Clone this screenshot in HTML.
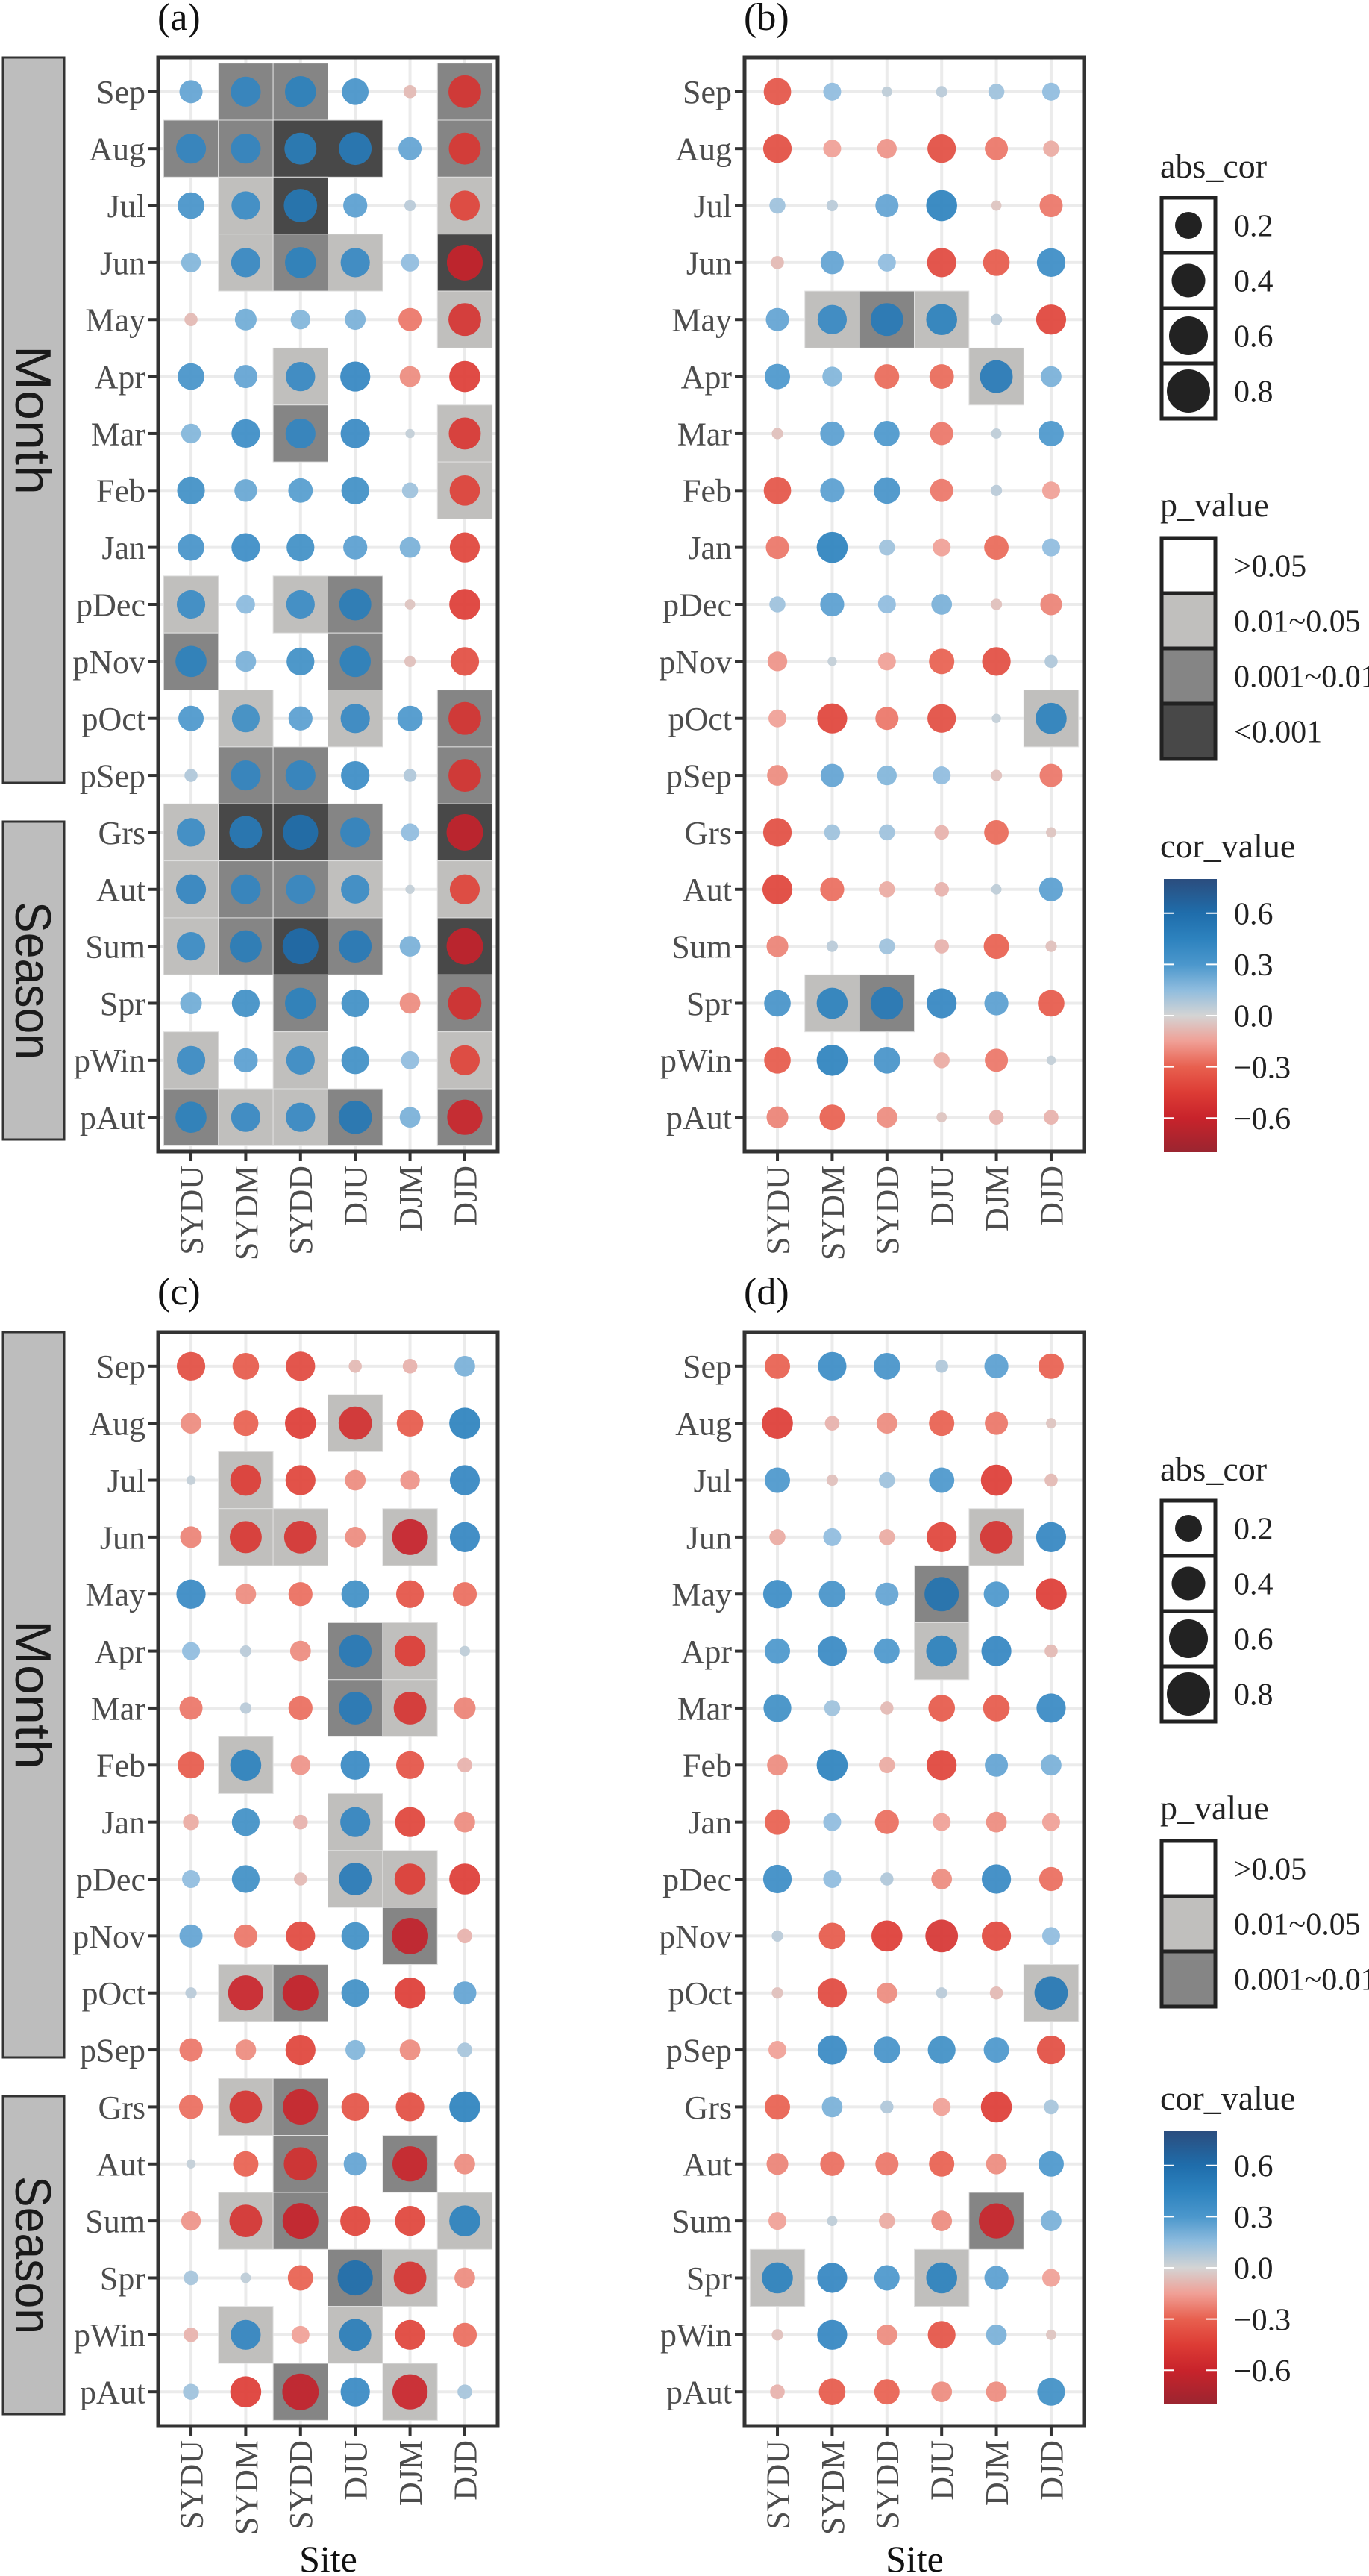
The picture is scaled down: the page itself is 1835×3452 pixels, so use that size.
<!DOCTYPE html>
<html><head><meta charset="utf-8">
<style>
html,body{margin:0;padding:0;background:#fff;}
svg{display:block;}
</style></head>
<body>
<svg id="chart" xmlns="http://www.w3.org/2000/svg" width="1835" height="3452" viewBox="0 0 1835 3452">
<defs>
<linearGradient id="corgrad" x1="0" y1="0" x2="0" y2="1"></linearGradient>
</defs>
<rect x="0" y="0" width="1835" height="3452" fill="#fff"/>
</svg>
<script>
const sites = ['SYDU','SYDM','SYDD','DJU','DJM','DJD'];
const periods = ['Sep','Aug','Jul','Jun','May','Apr','Mar','Feb','Jan','pDec','pNov','pOct','pSep','Grs','Aut','Sum','Spr','pWin','pAut'];
const corTicks = [0.6,0.3,0.0,-0.3,-0.6];
const corTickLabels = ['0.6','0.3','0.0','\u22120.3','\u22120.6'];
const sizeBreaks = [0.2,0.4,0.6,0.8];
const pLabels4 = ['>0.05','0.01~0.05','0.001~0.01','<0.001'];
const pLabels3 = ['>0.05','0.01~0.05','0.001~0.01'];

const corA = [
[0.25,0.42,0.45,0.33,-0.08,-0.5],
[0.42,0.42,0.48,0.5,0.25,-0.48],
[0.33,0.38,0.52,0.27,0.06,-0.42],
[0.18,0.4,0.45,0.4,0.15,-0.6],
[-0.08,0.22,0.18,0.2,-0.25,-0.5],
[0.33,0.25,0.4,0.42,-0.2,-0.45],
[0.18,0.38,0.42,0.4,0.04,-0.48],
[0.36,0.24,0.28,0.36,0.12,-0.43],
[0.33,0.38,0.36,0.27,0.2,-0.42],
[0.38,0.16,0.38,0.48,-0.05,-0.45],
[0.45,0.2,0.36,0.45,-0.06,-0.38],
[0.3,0.36,0.27,0.4,0.3,-0.5],
[0.08,0.42,0.42,0.38,0.08,-0.5],
[0.38,0.5,0.58,0.42,0.15,-0.62],
[0.42,0.42,0.4,0.38,0.04,-0.42],
[0.38,0.48,0.6,0.5,0.2,-0.62],
[0.22,0.36,0.45,0.36,-0.2,-0.52],
[0.38,0.27,0.38,0.36,0.15,-0.42],
[0.45,0.4,0.4,0.52,0.2,-0.58]];
const pA = [
[0,2,2,0,0,2],[2,2,3,3,0,2],[0,1,3,0,0,1],[0,1,2,1,0,3],[0,0,0,0,0,1],
[0,0,1,0,0,0],[0,0,2,0,0,1],[0,0,0,0,0,1],[0,0,0,0,0,0],[1,0,1,2,0,0],
[2,0,0,2,0,0],[0,1,0,1,0,2],[0,2,2,0,0,2],[1,3,3,2,0,3],[1,2,2,1,0,1],
[1,2,3,2,0,3],[0,0,2,0,0,2],[1,0,1,0,0,1],[2,1,1,2,0,2]];

const corB = [
[-0.35,0.15,0.05,0.06,0.12,0.15],
[-0.38,-0.15,-0.18,-0.38,-0.25,-0.12],
[0.12,0.06,0.25,0.45,-0.05,-0.25],
[-0.08,0.25,0.15,-0.4,-0.33,0.38],
[0.25,0.4,0.5,0.45,0.06,-0.42],
[0.3,0.18,-0.28,-0.28,0.5,0.2],
[-0.06,0.27,0.3,-0.25,0.05,0.3],
[-0.35,0.27,0.33,-0.25,0.06,-0.15],
[-0.25,0.45,0.12,-0.15,-0.28,0.15],
[0.12,0.27,0.15,0.2,-0.06,-0.22],
[-0.18,0.04,-0.15,-0.3,-0.38,0.08],
[-0.15,-0.42,-0.25,-0.38,0.04,0.45],
[-0.2,0.25,0.18,0.15,-0.06,-0.25],
[-0.38,0.12,0.12,-0.1,-0.28,-0.05],
[-0.42,-0.27,-0.12,-0.1,0.05,0.27],
[-0.22,0.06,0.12,-0.1,-0.3,-0.06],
[0.33,0.45,0.5,0.42,0.27,-0.33],
[-0.33,0.45,0.33,-0.12,-0.25,0.04],
[-0.22,-0.3,-0.2,-0.05,-0.1,-0.1]];
const pB = [
[0,0,0,0,0,0],[0,0,0,0,0,0],[0,0,0,0,0,0],[0,0,0,0,0,0],[0,1,2,1,0,0],
[0,0,0,0,1,0],[0,0,0,0,0,0],[0,0,0,0,0,0],[0,0,0,0,0,0],[0,0,0,0,0,0],
[0,0,0,0,0,0],[0,0,0,0,0,1],[0,0,0,0,0,0],[0,0,0,0,0,0],[0,0,0,0,0,0],
[0,0,0,0,0,0],[0,1,2,0,0,0],[0,0,0,0,0,0],[0,0,0,0,0,0]];

const corC = [
[-0.38,-0.33,-0.4,-0.08,-0.1,0.2],
[-0.2,-0.3,-0.45,-0.52,-0.33,0.45],
[0.04,-0.45,-0.42,-0.2,-0.18,0.42],
[-0.22,-0.48,-0.5,-0.2,-0.6,0.42],
[0.4,-0.2,-0.27,0.36,-0.36,-0.27],
[0.15,0.06,-0.2,0.5,-0.45,0.05],
[-0.25,0.06,-0.27,0.5,-0.5,-0.22],
[-0.33,0.45,-0.18,0.4,-0.36,-0.1],
[-0.12,0.36,-0.1,0.42,-0.42,-0.2],
[0.15,0.36,-0.08,0.5,-0.45,-0.45],
[0.25,-0.25,-0.4,0.36,-0.62,-0.1],
[0.06,-0.58,-0.6,0.36,-0.45,0.25],
[-0.25,-0.2,-0.42,0.18,-0.2,0.1],
[-0.27,-0.5,-0.58,-0.36,-0.38,0.45],
[0.04,-0.3,-0.52,0.25,-0.58,-0.2],
[-0.18,-0.5,-0.6,-0.42,-0.42,0.45],
[0.1,0.05,-0.3,0.58,-0.5,-0.2],
[-0.1,0.42,-0.15,0.48,-0.42,-0.27],
[0.12,-0.45,-0.62,0.4,-0.58,0.1]];
const pC = [
[0,0,0,0,0,0],[0,0,0,1,0,0],[0,1,0,0,0,0],[0,1,1,0,1,0],[0,0,0,0,0,0],
[0,0,0,2,1,0],[0,0,0,2,1,0],[0,1,0,0,0,0],[0,0,0,1,0,0],[0,0,0,1,1,0],
[0,0,0,0,2,0],[0,1,2,0,0,0],[0,0,0,0,0,0],[0,1,2,0,0,0],[0,0,2,0,2,0],
[0,1,2,0,0,1],[0,0,0,2,1,0],[0,1,0,1,0,0],[0,0,2,0,1,0]];

const corD = [
[-0.3,0.38,0.33,0.08,0.27,-0.3],
[-0.45,-0.1,-0.2,-0.3,-0.25,-0.05],
[0.3,-0.06,0.12,0.3,-0.45,-0.08],
[-0.12,0.15,-0.12,-0.42,-0.5,0.42],
[0.38,0.33,0.25,0.55,0.3,-0.45],
[0.3,0.4,0.3,0.45,0.42,-0.08],
[0.36,0.12,-0.08,-0.33,-0.33,0.4],
[-0.2,0.45,-0.12,-0.42,0.25,0.2],
[-0.3,0.15,-0.27,-0.15,-0.2,-0.15],
[0.38,0.15,0.08,-0.2,0.4,-0.27],
[0.06,-0.33,-0.45,-0.5,-0.4,0.15],
[-0.06,-0.4,-0.2,0.06,-0.08,0.52],
[-0.15,0.4,0.33,0.36,0.3,-0.38],
[-0.3,0.2,0.08,-0.15,-0.45,0.1],
[-0.22,-0.27,-0.25,-0.3,-0.2,0.3],
[-0.15,0.05,-0.12,-0.2,-0.58,0.2],
[0.45,0.42,0.3,0.45,0.27,-0.15],
[-0.06,0.42,-0.2,-0.36,0.2,-0.05],
[-0.1,-0.33,-0.3,-0.2,-0.2,0.36]];
const pD = [
[0,0,0,0,0,0],[0,0,0,0,0,0],[0,0,0,0,0,0],[0,0,0,0,1,0],[0,0,0,2,0,0],
[0,0,0,1,0,0],[0,0,0,0,0,0],[0,0,0,0,0,0],[0,0,0,0,0,0],[0,0,0,0,0,0],
[0,0,0,0,0,0],[0,0,0,0,0,1],[0,0,0,0,0,0],[0,0,0,0,0,0],[0,0,0,0,0,0],
[0,0,0,0,2,0],[1,0,0,1,0,0],[0,0,0,0,0,0],[0,0,0,0,0,0]];

const NS = 'http://www.w3.org/2000/svg';
const svg = document.getElementById('chart');
function mk(tag, attrs, parent){
  const e = document.createElementNS(NS, tag);
  for (const k in attrs) e.setAttribute(k, attrs[k]);
  (parent || svg).appendChild(e);
  return e;
}
const pFill = ['#ffffff','#c0bfbd','#858585','#484848'];
const stops = [
 [-0.8,[155,37,48]],[-0.6,[200,35,43]],[-0.45,[221,60,53]],[-0.3,[232,96,79]],
 [-0.15,[240,160,150]],[0,[212,212,212]],[0.15,[143,188,222]],[0.3,[75,151,204]],
 [0.45,[45,130,190]],[0.6,[31,109,171]],[0.8,[43,77,126]]];
function corColor(v){
  v = Math.max(-0.8, Math.min(0.8, v));
  for (let i=0;i<stops.length-1;i++){
    const a=stops[i], b=stops[i+1];
    if (v>=a[0] && v<=b[0]){
      const t=(v-a[0])/(b[0]-a[0]);
      const c=a[1].map((x,k)=>Math.round(x+(b[1][k]-x)*t));
      return 'rgb('+c.join(',')+')';
    }
  }
  return '#ccc';
}
function radius(v){ return Math.max(6, 31*Math.sqrt(Math.abs(v))); }

const serif = '"Liberation Serif", "DejaVu Serif", serif';
const sans = '"Liberation Sans", "DejaVu Sans", sans-serif';
const W = 455, H = 1466;

function drawPanel(name, bx, by, cor, pv, strips){
  const g = mk('g', {});
  
  
  const sx = W/6.2, sy = H/19.2;
  const xOf = i => bx + (0.6+i)*sx;
  const yOf = j => by + (0.6+j)*sy;
  // grid
  for (let j=0;j<periods.length;j++){
    const l = mk('line', {x1:bx, x2:bx+W, y1:yOf(j), y2:yOf(j), stroke:'#ebebeb', 'stroke-width':4}, g);
    
    
  }
  for (let i=0;i<sites.length;i++){
    const l = mk('line', {x1:xOf(i), x2:xOf(i), y1:by, y2:by+H, stroke:'#ebebeb', 'stroke-width':4}, g);
    
    
  }
  // tiles
  for (let j=0;j<periods.length;j++){
    for (let i=0;i<sites.length;i++){
      const p = pv[j][i];
      if (p>0){
        const r = mk('rect', {x:xOf(i)-sx/2, y:yOf(j)-sy/2, width:sx, height:sy, fill:pFill[p], stroke:'#e0e0e0', 'stroke-width':1}, g);
        
        
      }
    }
  }
  // circles
  for (let j=0;j<periods.length;j++){
    for (let i=0;i<sites.length;i++){
      const v = cor[j][i];
      const c = mk('circle', {cx:xOf(i), cy:yOf(j), r:radius(v), fill:corColor(v), 'fill-opacity':0.92}, g);
      
      
    }
  }
  // border
  const bd = mk('rect', {x:bx, y:by, width:W, height:H, fill:'none', stroke:'#333', 'stroke-width':5}, g);
  
  
  // y ticks and labels
  for (let j=0;j<periods.length;j++){
    const t = mk('line', {x1:bx-13, x2:bx, y1:yOf(j), y2:yOf(j), stroke:'#333', 'stroke-width':4}, g);
    
    
    const tx = mk('text', {x:bx-17, y:yOf(j), dy:'0.35em', 'text-anchor':'end', 'font-family':serif, 'font-size':44, fill:'#4d4d4d'}, g);
    tx.textContent = periods[j];
    
    
  }
  for (let i=0;i<sites.length;i++){
    const t = mk('line', {x1:xOf(i), x2:xOf(i), y1:by+H, y2:by+H+13, stroke:'#333', 'stroke-width':4}, g);
    
    
    const yy = by+H+19;
    const tx = mk('text', {x:xOf(i), y:yy, dy:'0.35em', 'text-anchor':'end', transform:'rotate(-90 '+xOf(i)+' '+yy+')', 'font-family':serif, 'font-size':44, fill:'#4d4d4d'}, g);
    tx.textContent = sites[i];
    
    
  }
  // panel title
  const tt = mk('text', {x:bx-1, y:by-37, 'font-family':serif, 'font-size':52, fill:'#111'}, g);
  tt.textContent = '(' + name + ')';
  
  
  if (strips){
    const defs = [['Month', by, by+972, 200],['Season', by+1024, by+1450, 212]];
    for (const d of defs){
      const r = mk('rect', {x:4, y:d[1], width:82, height:d[2]-d[1], fill:'#bdbdbd', stroke:'#333', 'stroke-width':3}, g);
      
      
      const cy = (d[1]+d[2])/2;
      const s = mk('text', {x:45, y:cy, dy:'0.35em', 'text-anchor':'middle', transform:'rotate(90 45 '+cy+')', 'font-family':sans, 'font-size':68, fill:'#1a1a1a', textLength:d[3], lengthAdjust:'spacingAndGlyphs'}, g);
      s.textContent = d[0];
      
      
    }
  }
  return {xOf, yOf};
}

drawPanel('a', 212, 77, corA, pA, true);
drawPanel('b', 998, 77, corB, pB, false);
drawPanel('c', 212, 1785, corC, pC, true);
drawPanel('d', 998, 1785, corD, pD, false);

// x-axis titles
for (const cx of [440, 1226]){
  const t = mk('text', {x:cx, y:3446, 'text-anchor':'middle', 'font-family':serif, 'font-size':50, fill:'#111'});
  t.textContent = 'Site';
  
  
}

// gradient stops
const grad = document.getElementById('corgrad');
for (const s of stops.slice().reverse()){
  mk('stop', {offset:((0.8 - s[0])/1.6).toFixed(4), 'stop-color':'rgb('+s[1].join(',')+')'}, grad);
}

function drawLegend(oy, pLabels, oyCor){
  const g = mk('g', {});
  
  
  const lx = 1557, kw = 72, kh = 74, tx = 1654;
  // abs_cor
  const t1 = mk('text', {x:1555, y:oy+238, 'font-family':serif, 'font-size':46, fill:'#222'}, g);
  t1.textContent = 'abs_cor';
  
  
  const rs = [18,22.5,26,29];
  for (let k=0;k<sizeBreaks.length;k++){
    const y0 = oy + 265 + k*kh;
    const r = mk('rect', {x:lx, y:y0, width:kw, height:kh, fill:'#fff', stroke:'#222', 'stroke-width':5}, g);
    
    
    const c = mk('circle', {cx:lx+kw/2, cy:y0+kh/2, r:rs[k], fill:'#222'}, g);
    
    
    const l = mk('text', {x:tx, y:y0+kh/2, dy:'0.35em', 'font-family':serif, 'font-size':42, fill:'#222'}, g);
    l.textContent = sizeBreaks[k].toFixed(1);
    
    
  }
  // p_value
  const t2 = mk('text', {x:1555, y:oy+692, 'font-family':serif, 'font-size':46, fill:'#222'}, g);
  t2.textContent = 'p_value';
  
  
  for (let k=0;k<pLabels.length;k++){
    const y0 = oy + 721 + k*kh;
    const r = mk('rect', {x:lx, y:y0, width:kw, height:kh, fill:pFill[k], stroke:'#222', 'stroke-width':5}, g);
    
    
    const l = mk('text', {x:tx, y:y0+kh/2, dy:'0.35em', 'font-family':serif, 'font-size':42, fill:'#222'}, g);
    l.textContent = pLabels[k];
    
    
  }
  // cor_value
  const t3 = mk('text', {x:1555, y:oyCor+1149, 'font-family':serif, 'font-size':46, fill:'#222'}, g);
  t3.textContent = 'cor_value';
  
  
  const by0 = oyCor + 1178, bh = 366;
  const bar = mk('rect', {x:1560, y:by0, width:71, height:bh, fill:'url(#corgrad)'}, g);
  
  
  for (let k=0;k<corTicks.length;k++){
    const y = by0 + (0.8 - corTicks[k])/1.6*bh;
    const a = mk('line', {x1:1560, x2:1574, y1:y, y2:y, stroke:'#fff', 'stroke-width':2}, g);
    
    
    const b = mk('line', {x1:1617, x2:1631, y1:y, y2:y, stroke:'#fff', 'stroke-width':2}, g);
    
    
    const l = mk('text', {x:tx, y:y, dy:'0.35em', 'font-family':serif, 'font-size':42, fill:'#222'}, g);
    l.textContent = corTickLabels[k];
    
    
  }
}
drawLegend(0, pLabels4, 0);
drawLegend(1746, pLabels3, 1678);
</script>
</body></html>
